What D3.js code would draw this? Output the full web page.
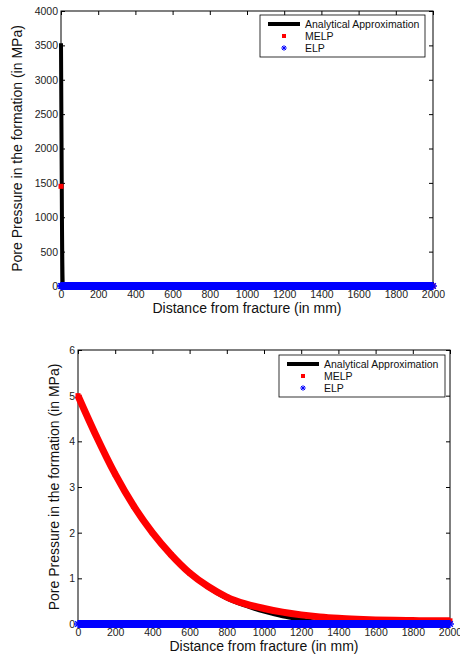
<!DOCTYPE html>
<html>
<head>
<meta charset="utf-8">
<script src="https://cdn.jsdelivr.net/npm/d3@7"></script>
<style>
  body { margin: 0; background: #fff; }
  svg { display: block; font-family: "Liberation Sans", Arial, sans-serif; }
</style>
</head>
<body>
<svg id="chart" width="460" height="657"></svg>
<script>
// --- Data ---
const xTicks = [0, 200, 400, 600, 800, 1000, 1200, 1400, 1600, 1800, 2000];
const topYTicks = [0, 500, 1000, 1500, 2000, 2500, 3000, 3500, 4000];
const bottomYTicks = [0, 1, 2, 3, 4, 5, 6];
const legendLabels = ["Analytical Approximation", "MELP", "ELP"];

// top panel: very steep spike right at the fracture
const topDistance = [0, 5, 10, 100, 200, 300, 400, 500, 600, 700, 800, 900, 1000,
                     1100, 1200, 1300, 1400, 1500, 1600, 1700, 1800, 1900, 2000];
const topAnalytical = [3530, 1000, 0, 0, 0, 0, 0, 0, 0, 0, 0, 0, 0, 0, 0, 0, 0, 0, 0, 0, 0, 0, 0];
const topMELP = [1450, 0, 0, 0, 0, 0, 0, 0, 0, 0, 0, 0, 0, 0, 0, 0, 0, 0, 0, 0, 0, 0, 0];
const topELP = [0, 0, 0, 0, 0, 0, 0, 0, 0, 0, 0, 0, 0, 0, 0, 0, 0, 0, 0, 0, 0, 0, 0];

// bottom panel: smooth decay
const bottomDistance = [0, 100, 200, 300, 400, 500, 600, 700, 800, 900, 1000,
                        1100, 1200, 1300, 1400, 1500, 1600, 1700, 1800, 1900, 2000];
const bottomAnalytical = [5.0, 4.1, 3.27, 2.57, 1.98, 1.5, 1.1, 0.8, 0.56, 0.4, 0.27,
                          0.17, 0.1, 0.04, 0, 0, 0, 0, 0, 0, 0];
const bottomMELP = [5.0, 4.1, 3.28, 2.58, 2.0, 1.52, 1.12, 0.82, 0.59, 0.44, 0.34,
                    0.26, 0.2, 0.155, 0.125, 0.105, 0.09, 0.08, 0.075, 0.07, 0.07];
const bottomELP = [0, 0, 0, 0, 0, 0, 0, 0, 0, 0, 0, 0, 0, 0, 0, 0, 0, 0, 0, 0, 0];

const svg = d3.select("#chart");

drawPanel({
    left: 61, right: 433, top: 11, bottom: 286,
    yMax: 4000, yTicks: topYTicks,
    dist: topDistance, analytical: topAnalytical, melp: topMELP, elp: topELP,
    melpLine: false,
    labelX: 22,
    legend: { x: 260, y: 15, w: 165, h: 42 }
});

drawPanel({
    left: 78, right: 450, top: 350, bottom: 624,
    yMax: 6, yTicks: bottomYTicks,
    dist: bottomDistance, analytical: bottomAnalytical, melp: bottomMELP, elp: bottomELP,
    melpLine: true,
    labelX: 59,
    legend: { x: 279, y: 355, w: 166, h: 42 }
});

function drawPanel(cfg) {
    const x = d3.scaleLinear().domain([0, 2000]).range([cfg.left, cfg.right]);
    const y = d3.scaleLinear().domain([0, cfg.yMax]).range([cfg.bottom, cfg.top]);
    const g = svg.append("g");

    // axes: MATLAB style box, inward ticks on all sides
    const fmt = d3.format("d");
    const styleAxis = sel => {
        sel.select(".domain").remove();
        sel.selectAll("line").attr("stroke", "#000");
        sel.selectAll("text").attr("fill", "#222").style("font-size", "10.5px");
    };
    g.append("g").attr("transform", `translate(0,${cfg.bottom})`)
        .call(d3.axisBottom(x).tickValues(xTicks).tickFormat(fmt).tickSizeInner(-4).tickSizeOuter(0).tickPadding(5))
        .call(styleAxis);
    g.append("g").attr("transform", `translate(0,${cfg.top})`)
        .call(d3.axisTop(x).tickValues(xTicks).tickFormat("").tickSizeInner(-4).tickSizeOuter(0))
        .call(styleAxis);
    g.append("g").attr("transform", `translate(${cfg.left},0)`)
        .call(d3.axisLeft(y).tickValues(cfg.yTicks).tickFormat(fmt).tickSizeInner(-4).tickSizeOuter(0).tickPadding(3))
        .call(styleAxis);
    g.append("g").attr("transform", `translate(${cfg.right},0)`)
        .call(d3.axisRight(y).tickValues(cfg.yTicks).tickFormat("").tickSizeInner(-4).tickSizeOuter(0))
        .call(styleAxis);
    g.append("rect")
        .attr("x", cfg.left).attr("y", cfg.top)
        .attr("width", cfg.right - cfg.left).attr("height", cfg.bottom - cfg.top)
        .attr("fill", "none").attr("stroke", "#000").attr("stroke-width", 1);

    // axis labels
    g.append("text")
        .attr("x", (cfg.left + cfg.right) / 2).attr("y", cfg.bottom + 27)
        .attr("text-anchor", "middle").style("font-size", "14px").attr("fill", "#111")
        .text("Distance from fracture (in mm)");
    g.append("text")
        .attr("transform", `translate(${cfg.labelX},${(cfg.top + cfg.bottom) / 2}) rotate(-90)`)
        .attr("text-anchor", "middle").style("font-size", "14px").attr("fill", "#111")
        .text("Pore Pressure in the formation (in MPa)");

    const line = d3.line()
        .x((d, i) => x(cfg.dist[i]))
        .y(d => y(d))
        .curve(d3.curveMonotoneX);

    // analytical approximation
    g.append("path").datum(cfg.analytical)
        .attr("d", line).attr("fill", "none")
        .attr("stroke", "#000").attr("stroke-width", 4);

    // MELP: dense red squares
    if (cfg.melpLine) {
        g.append("path").datum(cfg.melp)
            .attr("d", line).attr("fill", "none")
            .attr("stroke", "#f00").attr("stroke-width", 7);
    }
    g.selectAll(null).data(cfg.melp).enter().append("rect")
        .attr("x", (d, i) => x(cfg.dist[i]) - 2.5)
        .attr("y", d => y(d) - 2.5)
        .attr("width", 5).attr("height", 5)
        .attr("fill", "#f00");

    // ELP: dense blue asterisks
    g.append("path").datum(cfg.elp)
        .attr("d", line).attr("fill", "none")
        .attr("stroke", "#00f").attr("stroke-width", 8);
    cfg.elp.forEach((d, i) => asterisk(g, x(cfg.dist[i]), y(d), 4, 1.4));

    // legend
    const L = cfg.legend;
    const lg = g.append("g").attr("transform", `translate(${L.x},${L.y})`);
    lg.append("rect").attr("width", L.w).attr("height", L.h)
        .attr("fill", "#fff").attr("stroke", "#000").attr("stroke-width", 0.8);
    const rowY = [9, 21, 33];
    lg.append("line").attr("x1", 8).attr("x2", 40).attr("y1", rowY[0]).attr("y2", rowY[0])
        .attr("stroke", "#000").attr("stroke-width", 4);
    lg.append("rect").attr("x", 22).attr("y", rowY[1] - 2).attr("width", 4).attr("height", 4)
        .attr("fill", "#f00");
    asterisk(lg, 24, rowY[2], 2.8, 1);
    lg.selectAll(null).data(legendLabels).enter().append("text")
        .attr("x", 45).attr("y", (d, i) => rowY[i] + 3.8)
        .style("font-size", "10.5px").attr("fill", "#111")
        .text(d => d);
}

function asterisk(parent, cx, cy, r, w) {
    const a = parent.append("g").attr("transform", `translate(${cx},${cy})`)
        .attr("stroke", "#00f").attr("stroke-width", w);
    [0, 45, 90, 135].forEach(deg => {
        const t = deg * Math.PI / 180;
        a.append("line")
            .attr("x1", -r * Math.cos(t)).attr("y1", -r * Math.sin(t))
            .attr("x2", r * Math.cos(t)).attr("y2", r * Math.sin(t));
    });
}
</script>
</body>
</html>
